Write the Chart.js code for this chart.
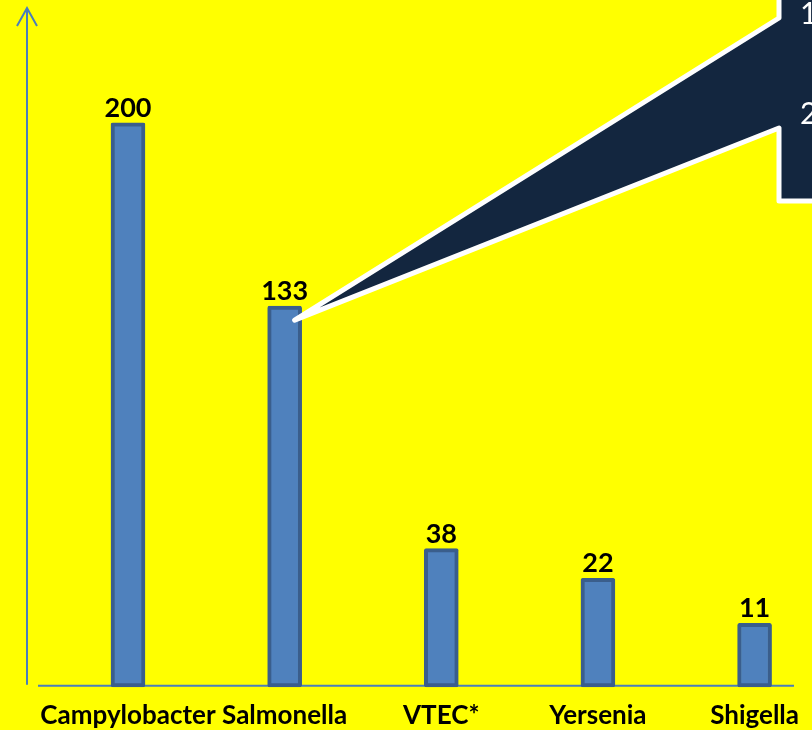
<!DOCTYPE html>
<html>
<head>
<meta charset="utf-8">
<script src="https://cdn.jsdelivr.net/npm/chart.js@4"></script>
<style>
  html, body { margin: 0; padding: 0; background: #ffff00; overflow: hidden; }
  #wrap { width: 812px; height: 730px; }
</style>
</head>
<body>
<div id="wrap"><canvas id="bacteriaChart" width="812" height="730"></canvas></div>
<script>
const categories = ['Campylobacter', 'Salmonella', 'VTEC*', 'Yersenia', 'Shigella'];
// printed counts above each bar
const valueLabels = [200, 133, 38, 22, 11];
// bar heights as drawn in the picture (the original is not to scale)
const barHeights = [200, 135, 49, 38.5, 22.5];
const calloutLines = ['1', '2'];

const ctx = document.getElementById('bacteriaChart').getContext('2d');

const axisColor = '#4a7ebb';
const navy = '#13263f';

// axes with arrow, value labels and the callout box
const decorations = {
    id: 'decorations',
    beforeDatasetsDraw(chart) {
        const c = chart.ctx;
        const area = chart.chartArea;
        c.save();
        c.strokeStyle = axisColor;
        c.lineWidth = 2;
        // y axis with open arrow head
        const ax = 27;
        c.beginPath();
        c.moveTo(ax, area.bottom - 2);
        c.lineTo(ax, area.top - 2);
        c.moveTo(ax - 10, area.top + 16);
        c.lineTo(ax, area.top - 2);
        c.lineTo(ax + 10, area.top + 16);
        c.stroke();
        // x axis
        c.beginPath();
        c.moveTo(38, area.bottom - 1);
        c.lineTo(794, area.bottom - 1);
        c.stroke();
        c.restore();
    },
    afterDatasetsDraw(chart) {
        const c = chart.ctx;
        const bars = chart.getDatasetMeta(0).data;
        c.save();
        c.fillStyle = '#000';
        c.font = 'bold 27px Lato';
        c.textAlign = 'center';
        c.textBaseline = 'alphabetic';
        bars.forEach((bar, i) => {
            c.fillText(String(valueLabels[i]), bar.x, bar.y - 6);
        });

        // callout pointing at the Salmonella bar
        const tip = bars[1];
        const tx = tip.x + 10, ty = tip.y + 14;
        c.beginPath();
        c.moveTo(779, -20);
        c.lineTo(779, 18);
        c.lineTo(tx, ty);
        c.lineTo(779, 128);
        c.lineTo(779, 201);
        c.lineTo(830, 201);
        c.lineTo(830, -20);
        c.closePath();
        c.fillStyle = navy;
        c.fill();
        c.strokeStyle = '#ffffff';
        c.lineWidth = 5;
        c.lineJoin = 'round';
        c.stroke();

        c.fillStyle = '#ffffff';
        c.font = '30px Lato';
        c.textAlign = 'left';
        c.fillText(calloutLines[0], 800, 24);
        c.fillText(calloutLines[1], 800, 124);
        c.restore();
    }
};

new Chart(ctx, {
    type: 'bar',
    data: {
        labels: categories,
        datasets: [{
            data: barHeights,
            backgroundColor: '#4f81bd',
            borderColor: '#3a5e8c',
            borderWidth: 4,
            borderRadius: 2,
            borderSkipped: false,
            barThickness: 34,
            clip: false
        }]
    },
    options: {
        responsive: false,
        animation: false,
        layout: {
            padding: { left: 128, right: 50, top: 10, bottom: -14 }
        },
        scales: {
            x: {
                offset: false,
                grid: { display: false, drawTicks: false },
                border: { display: false },
                ticks: {
                    color: '#000',
                    padding: 13,
                    autoSkip: false,
                    maxRotation: 0,
                    minRotation: 0,
                    font: { family: 'Lato', size: 26, weight: 'bold' }
                }
            },
            y: {
                display: false,
                min: 0,
                max: 240
            }
        },
        plugins: {
            legend: { display: false },
            tooltip: { enabled: false }
        }
    },
    plugins: [decorations]
});
</script>
</body>
</html>
